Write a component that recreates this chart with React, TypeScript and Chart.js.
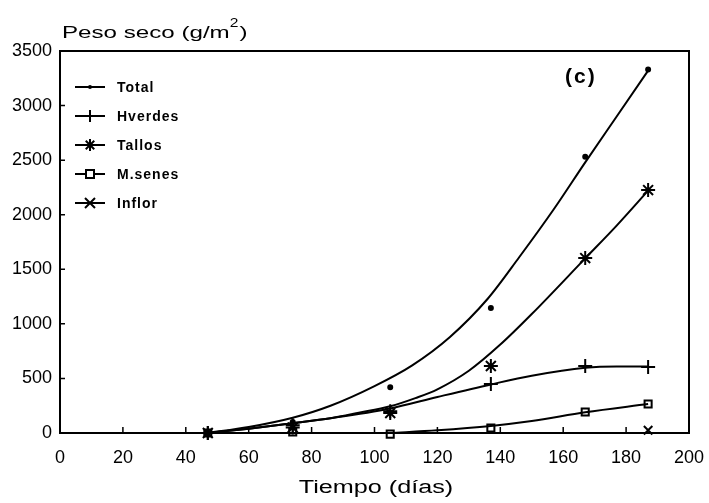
import React, { useEffect, useRef } from "react";
import { Chart, registerables } from "chart.js";
Chart.register(...registerables);

// Measured points
const days = [47, 74, 105, 137, 167, 187];
const totalPts = [0, 100, 420, 1145, 2530, 3330];
const hverdesPts = [0, 70, 200, 449, 614, 605];
const tallosPts = [0, 50, 183, 614, 1603, 2226];
const msenesPts = [0, 10, -10, 46, 192, 266];
const inflorDays = [187];
const inflorPts = [25];

// Fitted curves
const totalCurveDays = [47, 60, 74, 86, 100, 112, 124, 136, 146, 157, 167, 177, 187];
const totalCurve = [0, 55, 140, 250, 430, 620, 880, 1230, 1610, 2050, 2480, 2900, 3320];
const tallosCurveDays = [47, 60, 74, 86, 95, 105, 113, 120, 130, 140, 150, 167, 177, 187];
const tallosCurve = [0, 40, 90, 135, 185, 245, 320, 400, 570, 810, 1090, 1600, 1900, 2220];
const hverdesCurveDays = [47, 60, 74, 86, 105, 120, 137, 150, 167, 177, 187];
const hverdesCurve = [0, 40, 90, 135, 225, 330, 445, 525, 598, 610, 610];
const msenesCurveDays = [105, 120, 137, 150, 167, 187];
const msenesCurve = [0, 25, 65, 110, 190, 265];

const xTicks = [0, 20, 40, 60, 80, 100, 120, 140, 160, 180, 200];
const yTicks = [0, 500, 1000, 1500, 2000, 2500, 3000, 3500];

const legendNames = ["Total", "Hverdes", "Tallos", "M.senes", "Inflor"];
const legendStyles = ["dot", "cross", "star", "rect", "crossRot"];

const FONT = "'Liberation Sans', Arial, sans-serif";

const pts = (xs: number[], ys: number[]) => xs.map((x, i) => ({ x, y: ys[i] }));

function drawMarker(ctx: CanvasRenderingContext2D, style: string, x: number, y: number) {
  ctx.save();
  ctx.strokeStyle = "#000";
  ctx.fillStyle = "#000";
  ctx.lineWidth = 2;
  ctx.beginPath();
  if (style === "dot") {
    ctx.arc(x, y, 2, 0, Math.PI * 2);
    ctx.fill();
  } else if (style === "cross") {
    ctx.moveTo(x - 6, y); ctx.lineTo(x + 6, y);
    ctx.moveTo(x, y - 6); ctx.lineTo(x, y + 6);
    ctx.stroke();
  } else if (style === "star") {
    for (let k = 0; k < 4; k++) {
      const a = (k * Math.PI) / 4;
      ctx.moveTo(x - 6 * Math.cos(a), y - 6 * Math.sin(a));
      ctx.lineTo(x + 6 * Math.cos(a), y + 6 * Math.sin(a));
    }
    ctx.stroke();
  } else if (style === "rect") {
    ctx.fillStyle = "#fff";
    ctx.rect(x - 4, y - 4, 8, 8);
    ctx.fill();
    ctx.stroke();
  } else if (style === "crossRot") {
    ctx.moveTo(x - 5, y - 5); ctx.lineTo(x + 5, y + 5);
    ctx.moveTo(x + 5, y - 5); ctx.lineTo(x - 5, y + 5);
    ctx.stroke();
  }
  ctx.restore();
}

// draw horizontally stretched text starting at x (left) baseline y; returns drawn width
function wideText(ctx: CanvasRenderingContext2D, text: string, x: number, y: number, sx: number) {
  ctx.save();
  ctx.translate(x, y);
  ctx.scale(sx, 1);
  ctx.textAlign = "left";
  ctx.fillText(text, 0, 0);
  const w = ctx.measureText(text).width * sx;
  ctx.restore();
  return w;
}

const decorPlugin = {
  id: "decor",
  afterDraw(chart: any) {
    const { ctx, chartArea, scales } = chart;
    const { left, right, top, bottom } = chartArea;
    ctx.save();
    // frame
    ctx.strokeStyle = "#000";
    ctx.lineWidth = 2;
    ctx.strokeRect(left, top, right - left, bottom - top);
    // inward ticks
    ctx.lineWidth = 1.5;
    ctx.beginPath();
    xTicks.slice(1, -1).forEach((v) => {
      const px = scales.x.getPixelForValue(v);
      ctx.moveTo(px, bottom);
      ctx.lineTo(px, bottom - 6);
    });
    yTicks.slice(1, -1).forEach((v) => {
      const py = scales.y.getPixelForValue(v);
      ctx.moveTo(left, py);
      ctx.lineTo(left + 5, py);
    });
    ctx.stroke();

    // legend
    legendNames.forEach((name, i) => {
      const y = top + 36 + i * 29;
      ctx.strokeStyle = "#000";
      ctx.lineWidth = 2;
      ctx.beginPath();
      ctx.moveTo(left + 15, y);
      ctx.lineTo(left + 45, y);
      ctx.stroke();
      drawMarker(ctx, legendStyles[i], left + 30, y);
      ctx.fillStyle = "#000";
      ctx.font = `bold 14px ${FONT}`;
      (ctx as any).letterSpacing = "1px";
      ctx.textBaseline = "middle";
      ctx.textAlign = "left";
      ctx.fillText(name, left + 57, y + 1);
      (ctx as any).letterSpacing = "0px";
    });

    ctx.fillStyle = "#000";
    ctx.textBaseline = "alphabetic";
    // panel label
    ctx.font = `bold 21px ${FONT}`;
    (ctx as any).letterSpacing = "2px";
    ctx.textAlign = "left";
    ctx.fillText("(c)", 565, 83);
    (ctx as any).letterSpacing = "0px";

    // y title
    ctx.font = `17px ${FONT}`;
    const sx = 1.42;
    let xx = 62;
    xx += wideText(ctx, "Peso seco (g/m", xx, 38, sx);
    ctx.font = `13px ${FONT}`;
    xx += wideText(ctx, "2", xx, 27, 1.2);
    ctx.font = `17px ${FONT}`;
    wideText(ctx, ")", xx + 1, 38, sx);

    // x title
    ctx.font = `18px ${FONT}`;
    const xt = "Tiempo (días)";
    const tw = ctx.measureText(xt).width * 1.4;
    wideText(ctx, xt, 376 - tw / 2, 493, 1.4);
    ctx.restore();
  },
};

export default function App() {
  const ref = useRef<HTMLCanvasElement | null>(null);
  useEffect(() => {
    if (!ref.current) return;
    const lineDs = (data: any[]) => ({
      data,
      showLine: true,
      borderColor: "#000",
      borderWidth: 2,
      pointRadius: 0,
      cubicInterpolationMode: "monotone" as const,
      fill: false,
    });
    const markDs = (data: any[], pointStyle: string, radius: number, bg = "#000") => ({
      data,
      showLine: false,
      pointStyle,
      pointRadius: radius,
      borderColor: "#000",
      backgroundColor: bg,
      borderWidth: 2,
      clip: false as const,
    });
    const chart = new Chart(ref.current, {
      type: "scatter",
      data: {
        datasets: [
          lineDs(pts(totalCurveDays, totalCurve)),
          lineDs(pts(tallosCurveDays, tallosCurve)),
          lineDs(pts(hverdesCurveDays, hverdesCurve)),
          lineDs(pts(msenesCurveDays, msenesCurve)),
          markDs(pts(days, totalPts), "circle", 2),
          markDs(pts(days, hverdesPts), "cross", 7),
          markDs(pts(days, tallosPts), "star", 7),
          markDs(pts(days, msenesPts), "rect", 5, "#fff"),
          markDs(pts(inflorDays, inflorPts), "crossRot", 6),
        ] as any,
      },
      options: {
        animation: false,
        responsive: true,
        maintainAspectRatio: false,
        layout: { padding: { left: 0, right: 20, top: 51, bottom: 0 } },
        plugins: { legend: { display: false }, tooltip: { enabled: false } },
        scales: {
          x: {
            type: "linear",
            min: 0,
            max: 200,
            afterBuildTicks: (s: any) => {
              s.ticks = xTicks.map((v) => ({ value: v }));
            },
            afterFit: (s: any) => {
              s.height = 70;
              s.paddingLeft = 0;
              s.paddingRight = 0;
            },
            grid: { display: false, drawTicks: false },
            border: { display: false },
            ticks: {
              color: "#000",
              font: { size: 18, family: FONT },
              padding: 14,
              maxRotation: 0,
              autoSkip: false,
              callback: (v: any) => String(v),
            },
          },
          y: {
            type: "linear",
            min: 0,
            max: 3500,
            afterBuildTicks: (s: any) => {
              s.ticks = yTicks.map((v) => ({ value: v }));
            },
            afterFit: (s: any) => {
              s.width = 60;
              s.paddingTop = 0;
              s.paddingBottom = 0;
            },
            grid: { display: false, drawTicks: false },
            border: { display: false },
            ticks: {
              color: "#000",
              font: { size: 18, family: FONT },
              padding: 8,
              autoSkip: false,
              callback: (v: any) => String(v),
            },
          },
        },
      },
      plugins: [decorPlugin],
    });
    return () => chart.destroy();
  }, []);
  return (
    <div style={{ position: "fixed", left: 0, top: 0, width: 709, height: 503, background: "#fff" }}>
      <canvas ref={ref} />
    </div>
  );
}
